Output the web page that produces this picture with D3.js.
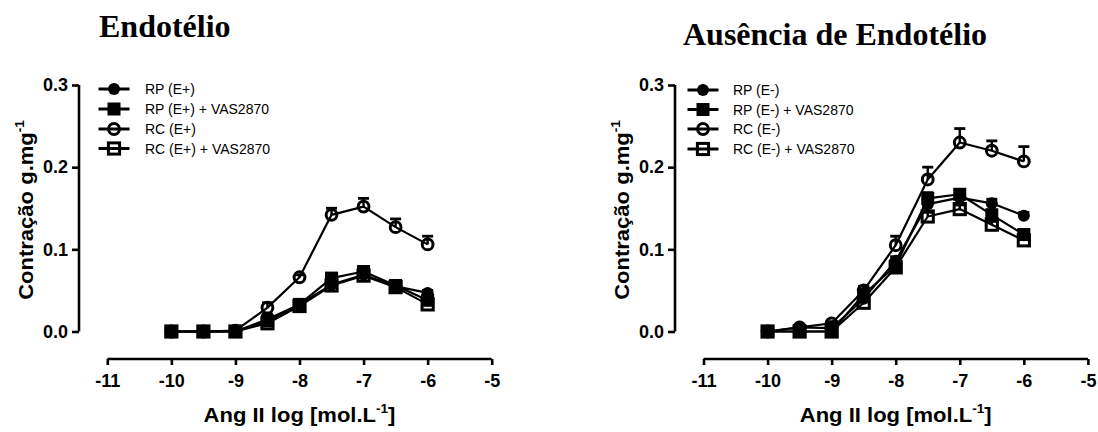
<!DOCTYPE html>
<html>
<head>
<meta charset="utf-8">
<script src="https://cdn.jsdelivr.net/npm/d3@7"></script>
<style>
  html, body { margin: 0; padding: 0; background: #fff; }
  svg { display: block; }
  text { fill: #000; }
</style>
</head>
<body>
<svg id="chart" width="1098" height="432"></svg>
<script>
// Log concentration of Ang II (mol/L)
const doses = [-10, -9.5, -9, -8.5, -8, -7.5, -7, -6.5, -6];
const xTicks = [-11, -10, -9, -8, -7, -6, -5];
const yTicks = [0.0, 0.1, 0.2, 0.3];

// Panel 1: with endothelium (E+)
const endoLabels = ["RP (E+)", "RP (E+) + VAS2870", "RC (E+)", "RC (E+) + VAS2870"];
const rpEp      = [0, 0, 0, 0.015, 0.033, 0.057, 0.069, 0.055, 0.047];
const rpEpVas   = [0, 0, 0, 0.013, 0.033, 0.065, 0.073, 0.056, 0.038];
const rcEp      = [0, 0, 0.001, 0.029, 0.066, 0.142, 0.152, 0.127, 0.106];
const rcEpVas   = [0, 0, 0, 0.010, 0.031, 0.056, 0.068, 0.054, 0.033];
const rpEpErr    = [0, 0, 0, 0.004, 0.003, 0.004, 0.004, 0.003, 0.003];
const rpEpVasErr = [0, 0, 0, 0.008, 0.003, 0.004, 0.004, 0.004, 0.004];
const rcEpErr    = [0, 0, 0, 0.006, 0.003, 0.008, 0.010, 0.010, 0.010];
const rcEpVasErr = [0, 0, 0, 0.004, 0.003, 0.004, 0.004, 0.003, 0.004];

// Panel 2: without endothelium (E-)
const noEndoLabels = ["RP (E-)", "RP (E-) + VAS2870", "RC (E-)", "RC (E-) + VAS2870"];
const rpEm      = [0, 0.005, 0.004, 0.040, 0.086, 0.155, 0.163, 0.156, 0.141];
const rpEmVas   = [0, 0, 0, 0.045, 0.080, 0.162, 0.167, 0.142, 0.118];
const rcEm      = [0, 0.005, 0.010, 0.050, 0.105, 0.185, 0.230, 0.220, 0.207];
const rcEmVas   = [0, 0, 0, 0.035, 0.078, 0.140, 0.149, 0.130, 0.111];
const rpEmErr    = [0, 0, 0, 0.004, 0.005, 0.004, 0.005, 0.005, 0.004];
const rpEmVasErr = [0, 0, 0, 0.005, 0.005, 0.007, 0.005, 0.006, 0.005];
const rcEmErr    = [0, 0, 0.002, 0.005, 0.011, 0.015, 0.017, 0.012, 0.018];
const rcEmVasErr = [0, 0, 0, 0.004, 0.005, 0.005, 0.005, 0.004, 0.004];

const markerKinds = ["dot", "square", "ring", "box"];

const svg = d3.select("#chart");
const sans = "'Liberation Sans', Arial, sans-serif";
const serif = "'Liberation Serif', 'Times New Roman', serif";

function drawMarker(g, kind, cx, cy) {
  if (kind === "dot") {
    g.append("circle").attr("cx", cx).attr("cy", cy).attr("r", 6).attr("fill", "#000");
  } else if (kind === "square") {
    g.append("rect").attr("x", cx - 6.5).attr("y", cy - 6.5).attr("width", 13).attr("height", 13).attr("fill", "#000");
  } else if (kind === "ring") {
    g.append("circle").attr("cx", cx).attr("cy", cy).attr("r", 5.4)
      .attr("fill", "none").attr("stroke", "#000").attr("stroke-width", 3);
  } else {
    g.append("rect").attr("x", cx - 5.6).attr("y", cy - 5.6).attr("width", 11.2).attr("height", 11.2)
      .attr("fill", "none").attr("stroke", "#000").attr("stroke-width", 3);
  }
}

function panel(opt) {
  const x = d3.scaleLinear().domain([-11, -5]).range([opt.x0, opt.x0 + 384.4]);
  const y = d3.scaleLinear().domain([0, 0.3]).range([331.5, 85]);
  const g = svg.append("g");

  // title
  g.append("text").attr("x", opt.titleX).attr("y", opt.titleY)
    .attr("font-family", serif).attr("font-weight", "bold").attr("font-size", 32)
    .text(opt.title);

  // y axis
  const yAx = g.append("g").attr("transform", `translate(${opt.yAxisX},0)`)
    .call(d3.axisLeft(y).tickValues(yTicks).tickFormat(d3.format(".1f")).tickSize(7).tickPadding(4));
  yAx.select(".domain").attr("d", `M0,${y(0)}V${y(0.3)}`).attr("stroke-width", 2.6);
  yAx.selectAll(".tick line").attr("stroke-width", 2.6);
  yAx.selectAll(".tick text").attr("font-family", sans).attr("font-weight", "bold")
    .attr("font-size", 18).attr("fill", "#000");

  // x axis (offset below the plot)
  const xAx = g.append("g").attr("transform", "translate(0,359)")
    .call(d3.axisBottom(x).tickValues(xTicks).tickFormat(d3.format("d")).tickSize(6).tickPadding(9));
  xAx.select(".domain").attr("d", `M${x(-11)},0H${x(-5)}`).attr("stroke-width", 2.6);
  xAx.selectAll(".tick line").attr("stroke-width", 2.6);
  xAx.selectAll(".tick text").attr("font-family", sans).attr("font-weight", "bold")
    .attr("font-size", 18).attr("fill", "#000")
    .text(d => d3.format("d")(d).replace("\u2212", "-"));

  // axis titles
  const xt = g.append("text")
    .attr("transform", `translate(${x(-8)},422) scale(1.13,1)`)
    .attr("text-anchor", "middle").attr("font-family", sans).attr("font-weight", "bold").attr("font-size", 19.5);
  xt.append("tspan").text("Ang II log [mol.L");
  xt.append("tspan").attr("font-size", 12).attr("dy", -9).text("-1");
  xt.append("tspan").attr("dy", 9).text("]");

  const yt = g.append("text")
    .attr("transform", `translate(${opt.yTitleX},${210}) rotate(-90) scale(1.13,1)`)
    .attr("text-anchor", "middle").attr("font-family", sans).attr("font-weight", "bold").attr("font-size", 19.5);
  yt.append("tspan").text("Contração g.mg");
  yt.append("tspan").attr("font-size", 12).attr("dy", -9).text("-1");

  const line = d3.line().x((d, i) => x(doses[i])).y(d => y(d));

  // connecting lines
  opt.series.forEach(s => {
    g.append("path").datum(s.values).attr("d", line)
      .attr("fill", "none").attr("stroke", "#000").attr("stroke-width", 2.2)
      .attr("stroke-linejoin", "round");
  });

  // error bars (upper SEM)
  opt.series.forEach(s => {
    s.values.forEach((v, i) => {
      const e = s.err[i];
      if (!e) return;
      const cx = x(doses[i]);
      g.append("line").attr("x1", cx).attr("x2", cx).attr("y1", y(v)).attr("y2", y(v + e))
        .attr("stroke", "#000").attr("stroke-width", 2.4);
      g.append("line").attr("x1", cx - 5.5).attr("x2", cx + 5.5).attr("y1", y(v + e)).attr("y2", y(v + e))
        .attr("stroke", "#000").attr("stroke-width", 2.8);
    });
  });

  // markers
  opt.series.forEach((s, k) => {
    s.values.forEach((v, i) => drawMarker(g, markerKinds[k], x(doses[i]), y(v)));
  });

  // legend
  opt.labels.forEach((lab, k) => {
    const ly = opt.legendY[k];
    g.append("line").attr("x1", opt.legX).attr("x2", opt.legX + 31).attr("y1", ly).attr("y2", ly)
      .attr("stroke", "#000").attr("stroke-width", 3);
    drawMarker(g, markerKinds[k], opt.legX + 15.5, ly);
    g.append("text").attr("x", opt.legTextX).attr("y", ly + 5)
      .attr("font-family", sans).attr("font-size", 14).text(lab);
  });
}

panel({
  x0: 107.3, yAxisX: 79, yTitleX: 33,
  title: "Endotélio", titleX: 99, titleY: 37,
  labels: endoLabels, legX: 98.5, legTextX: 145, legendY: [89, 109, 129, 148.5],
  series: [
    { values: rpEp, err: rpEpErr },
    { values: rpEpVas, err: rpEpVasErr },
    { values: rcEp, err: rcEpErr },
    { values: rcEpVas, err: rcEpVasErr }
  ]
});

panel({
  x0: 703.5, yAxisX: 675, yTitleX: 629,
  title: "Ausência de Endotélio", titleX: 683, titleY: 45,
  labels: noEndoLabels, legX: 687.5, legTextX: 733, legendY: [90, 109.5, 129, 149],
  series: [
    { values: rpEm, err: rpEmErr },
    { values: rpEmVas, err: rpEmVasErr },
    { values: rcEm, err: rcEmErr },
    { values: rcEmVas, err: rcEmVasErr }
  ]
});
</script>
</body>
</html>
